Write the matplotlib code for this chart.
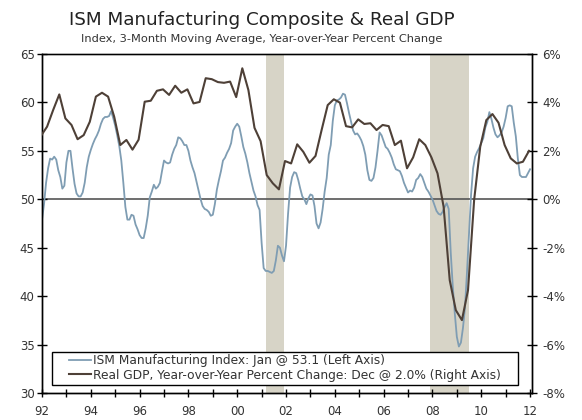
import numpy as np
import matplotlib
matplotlib.use("Agg")
import matplotlib.pyplot as plt
from matplotlib.patches import Rectangle
from matplotlib.ticker import FixedLocator, FuncFormatter

# ISM manufacturing index, 3-month moving average, monthly Jan 1992 .. Jan 2012
ism = [
    47.9, 49.5, 51.7, 53.2, 54.2, 54.1, 54.4, 54.1, 53.0, 52.3, 51.1, 51.4,  # 1992
    53.8, 55.0, 55.0, 53.2, 51.6, 50.6, 50.3, 50.3, 50.7, 51.7, 53.3, 54.4,  # 1993
    55.1, 55.7, 56.2, 56.6, 57.1, 57.8, 58.3, 58.5, 58.5, 58.6, 59.1, 58.4,  # 1994
    57.6, 56.6, 55.5, 54.0, 51.7, 49.2, 47.9, 47.9, 48.4, 48.3, 47.4, 46.9,  # 1995
    46.3, 46.0, 46.0, 47.0, 48.3, 50.2, 50.8, 51.5, 51.1, 51.3, 51.7, 52.9,  # 1996
    54.0, 53.8, 53.7, 53.8, 54.6, 55.2, 55.6, 56.4, 56.3, 56.0, 55.6, 55.6,  # 1997
    55.0, 54.0, 53.3, 52.7, 51.8, 50.9, 50.0, 49.3, 49.0, 48.9, 48.7, 48.3,  # 1998
    48.4, 49.5, 51.0, 52.0, 52.9, 54.0, 54.3, 54.8, 55.2, 55.8, 57.1, 57.5,  # 1999
    57.8, 57.5, 56.5, 55.4, 54.7, 53.8, 52.7, 51.8, 50.9, 50.3, 49.4, 48.9,  # 2000
    45.5, 42.9, 42.6, 42.6, 42.5, 42.4, 42.6, 43.7, 45.2, 45.0, 44.2, 43.6,  # 2001
    45.2, 48.5, 51.2, 52.3, 52.8, 52.7, 52.0, 51.1, 50.3, 50.0, 49.5, 50.1,  # 2002
    50.5, 50.4, 49.3, 47.5, 47.0, 47.6, 49.0, 50.8, 52.2, 54.6, 55.6, 58.1,  # 2003
    59.7, 60.2, 60.3, 60.5, 60.9, 60.8, 59.9, 58.9, 58.0, 57.1, 56.7, 56.8,  # 2004
    56.5, 56.1, 55.5, 54.6, 53.0, 52.0, 51.9, 52.2, 53.3, 55.0, 56.9, 56.6,  # 2005
    56.0, 55.4, 55.2, 54.8, 54.3, 53.6, 53.1, 53.0, 52.9, 52.4, 51.7, 51.2,  # 2006
    50.7, 50.9, 50.8, 51.2, 52.0, 52.2, 52.6, 52.3, 51.7, 51.1, 50.8, 50.4,  # 2007
    50.0, 49.4, 48.8, 48.5, 48.4, 48.7, 49.2, 49.6, 49.0, 44.5, 41.0, 38.2,  # 2008
    35.8, 34.8, 35.2, 36.7, 38.8, 42.5, 46.5, 50.5, 53.2, 54.4, 54.9, 55.3,  # 2009
    55.8, 56.3, 57.4, 58.0, 59.0, 58.3, 57.4, 56.7, 56.4, 56.6, 56.9, 57.5,  # 2010
    58.4, 59.6, 59.7, 59.6, 57.9, 56.5, 54.2, 52.5, 52.3, 52.3, 52.3, 52.7,  # 2011
    53.1,                                                                    # 2012
]
ism_dates = 1992 + np.arange(len(ism)) / 12

# real GDP, year-over-year percent change, quarterly Q4 1991 .. Q4 2011
gdp = [
    2.62,
    3.0, 3.69, 4.33, 3.34,   # 1992
    3.07, 2.48, 2.65, 3.2,   # 1993
    4.24, 4.4, 4.24, 3.41,   # 1994
    2.24, 2.45, 2.05, 2.46,  # 1995
    4.03, 4.07, 4.48, 4.54,  # 1996
    4.31, 4.69, 4.4, 4.54,   # 1997
    3.96, 4.02, 5.0, 4.96,   # 1998
    4.84, 4.81, 4.86, 4.22,  # 1999
    5.41, 4.51, 2.95, 2.4,   # 2000
    1.0, 0.66, 0.41, 1.58,   # 2001
    1.48, 2.27, 1.96, 1.51,  # 2002
    1.79, 2.86, 3.89, 4.13,  # 2003
    3.99, 3.02, 2.97, 3.3,   # 2004
    3.11, 3.14, 2.86, 3.07,  # 2005
    3.02, 2.24, 2.42, 1.28,  # 2006
    1.73, 2.48, 2.24, 1.73,  # 2007
    1.07, -0.31, -3.34, -4.58,  # 2008
    -4.99, -3.75, -0.03, 2.17,  # 2009
    3.27, 3.52, 3.16, 2.24,  # 2010
    1.69, 1.48, 1.55, 2.0,   # 2011
]
gdp_dates = 1991 + 11.5 / 12 + np.arange(len(gdp)) * 0.25

recessions = [(2001 + 2 / 12, 2001 + 11 / 12), (2007 + 11 / 12, 2009 + 6 / 12)]

ism_label = "ISM Manufacturing Index: Jan @ 53.1 (Left Axis)"
gdp_label = "Real GDP, Year-over-Year Percent Change: Dec @ 2.0% (Right Axis)"

blue = "#7f9db3"
brown = "#4e4037"
shade = "#d7d4c7"
txt = "#333333"

plt.rcParams["font.family"] = ["DejaVu Sans"]

fig = plt.figure(figsize=(5.82, 4.2), dpi=100)
ax = fig.add_axes([42 / 582, 27 / 420, 490 / 582, 339 / 420])
ax2 = ax.twinx()

for a, b in recessions:
    ax.axvspan(a, b, color=shade, lw=0, zorder=0)
ax.axhline(50, color="#555555", lw=1.2, zorder=1)

l1, = ax.plot(ism_dates, ism, color=blue, lw=1.3, zorder=2)
l2, = ax2.plot(gdp_dates, gdp, color=brown, lw=1.5, zorder=3)

ax.set_xlim(1992, 2012.08)
ax.set_ylim(30, 65)
ax2.set_ylim(-8, 6)

ax.set_yticks(np.arange(30, 66, 5))
ax2.set_yticks(np.arange(-8, 7, 2))
ax2.yaxis.set_major_formatter(FuncFormatter(lambda v, p: "%d%%" % v))

ax.xaxis.set_major_locator(FixedLocator(np.arange(1992, 2013, 2)))
ax.xaxis.set_minor_locator(FixedLocator(np.arange(1993, 2012, 2)))
ax.xaxis.set_major_formatter(FuncFormatter(lambda v, p: "%02d" % (int(round(v)) % 100)))

for a in (ax, ax2):
    a.tick_params(which="both", direction="inout", length=6.5, width=1,
                  color="black", labelsize=8.5, labelcolor=txt)
    for s in a.spines.values():
        s.set_linewidth(1)
ax.spines["top"].set_color("#555555")
ax.tick_params(axis="x", which="both", length=5.5, pad=6)
ax.tick_params(axis="y", pad=2)
ax2.tick_params(axis="y", pad=4)

# legend box drawn by hand so the padding matches the original
box = Rectangle((10 / 490, 8 / 339), 466 / 490, 33 / 339, transform=ax2.transAxes,
                facecolor="white", edgecolor="black", lw=1, zorder=4)
ax2.add_patch(box)
leg = ax2.legend([l1, l2], [ism_label, gdp_label], loc="center left",
                 bbox_to_anchor=(27 / 490, 25 / 339), borderaxespad=0,
                 fontsize=8.85, frameon=False, borderpad=0,
                 handlelength=1.75, handletextpad=0.2, labelspacing=0.12)
leg.set_zorder(5)
for t in leg.get_texts():
    t.set_color(txt)

fig.text(262 / 582, 1 - 20 / 420, "ISM Manufacturing Composite & Real GDP",
         ha="center", va="center", fontsize=13.2, color="#222222")
fig.text(262 / 582, 1 - 39 / 420,
         "Index, 3-Month Moving Average, Year-over-Year Percent Change",
         ha="center", va="center", fontsize=8.2, color=txt)

fig.savefig("out.png", dpi=100)
